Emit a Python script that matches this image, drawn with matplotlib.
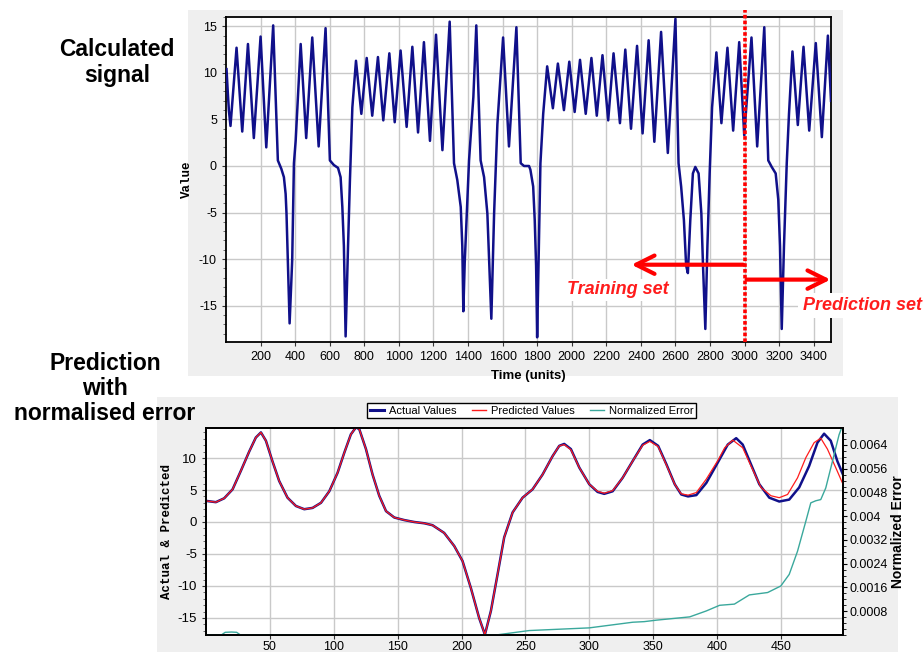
import matplotlib
matplotlib.use("Agg")
import matplotlib.pyplot as plt
from matplotlib.patches import Rectangle
from matplotlib.ticker import MultipleLocator, FuncFormatter
from matplotlib.lines import Line2D

# ---------------- data: calculated signal (top) ----------------
sig_time = [3, 11, 17, 26, 61, 94, 127, 161, 200, 233, 273, 300, 320, 335, 345, 350, 358, 368,
            383, 393, 403, 416, 432, 464, 499, 536, 576, 601, 624, 648, 663, 673, 682, 692,
            706, 717, 731, 752, 783, 814, 846, 879, 910, 945, 976, 1010, 1045, 1078, 1111,
            1145, 1180, 1215, 1252, 1294, 1319, 1338, 1358, 1367, 1373, 1381, 1406, 1431,
            1448, 1473, 1493, 1512, 1522, 1535, 1551, 1570, 1603, 1637, 1680, 1705, 1724,
            1753, 1761, 1777, 1786, 1794, 1800, 1810, 1819, 1835, 1858, 1891, 1920, 1955,
            1986, 2017, 2048, 2081, 2114, 2145, 2178, 2211, 2242, 2279, 2310, 2343, 2378,
            2410, 2445, 2478, 2517, 2556, 2600, 2618, 2633, 2649, 2662, 2672, 2686, 2701,
            2715, 2734, 2750, 2759, 2773, 2785, 2798, 2812, 2837, 2866, 2901, 2934, 2969,
            2998, 3040, 3073, 3114, 3137, 3157, 3180, 3195, 3205, 3215, 3228, 3244, 3257,
            3277, 3308, 3341, 3374, 3412, 3447, 3482, 3500]
sig_value = [10.4, 7.7, 5.9, 4.3, 12.7, 3.7, 13.1, 3.0, 13.9, 2.0, 15.1, 0.6, -0.3, -1.2, -3.0,
             -5.1, -10.4, -16.9, -10.1, 0.3, 2.7, 7.4, 13.1, 3.0, 13.8, 2.1, 14.8, 0.6, 0.1,
             -0.2, -1.2, -4.4, -8.6, -18.3, -8.6, -1.5, 6.3, 11.3, 5.6, 11.6, 5.4, 11.7, 4.9,
             12.1, 4.7, 12.4, 4.2, 12.8, 3.6, 13.3, 2.7, 14.1, 1.7, 15.5, 0.3, -1.5, -4.4,
             -8.6, -15.6, -10.4, 0.6, 7.4, 15.1, 0.6, -1.2, -5.1, -10.1, -16.4, -5.1, 4.5,
             13.8, 2.1, 14.9, 0.3, 0.0, 0.0, -0.4, -2.2, -5.8, -10.7, -18.4, -8.6, 0.3, 5.6,
             10.7, 6.2, 11.0, 6.0, 11.2, 5.8, 11.4, 5.6, 11.6, 5.4, 11.9, 4.9, 12.1, 4.6,
             12.5, 4.0, 12.9, 3.5, 13.5, 2.6, 14.4, 1.4, 15.8, 0.3, -2.2, -5.8, -10.7, -11.5,
             -5.8, -0.8, -0.1, -0.8, -5.1, -10.4, -17.5, -8.6, -0.8, 6.3, 12.2, 4.6, 12.7,
             3.8, 13.3, 3.3, 13.8, 2.1, 14.9, 0.6, -0.1, -0.8, -3.6, -8.6, -17.5, -8.6, 0.3,
             5.6, 12.3, 4.4, 12.8, 3.8, 13.2, 3.1, 14.0, 7.0]
split_time = 3000

# ---------------- data: prediction window (bottom) ----------------
act_x = [0, 7.7, 14.2, 20.8, 27.3, 33.8, 39, 43, 46.9, 52, 57.3, 63.8, 70.4, 76.9, 83.4, 90,
         96.5, 103, 108.2, 113.4, 117.4, 120, 125.2, 130.4, 135.6, 140.9, 147.4, 155.2, 163,
         170.9, 177.3, 186.4, 194.3, 200.8, 207.3, 213.8, 218.3, 223, 228.2, 233.4, 240,
         247.8, 255.6, 263.4, 271.3, 276.5, 280.4, 285.6, 292.2, 300, 306.5, 311.7, 318.3,
         326.1, 333.9, 341.8, 347.4, 353.9, 360.4, 366.9, 372, 377.3, 383.8, 391.6, 400.6,
         408.4, 415, 420.1, 426.6, 433.1, 440.9, 448.7, 456.5, 464.3, 472.1, 478.6, 483.8,
         489, 494.2, 498.6]
act_y = [3.3, 3.1, 3.7, 5.1, 8.0, 11.0, 13.2, 14.0, 12.7, 9.5, 6.4, 3.8, 2.5, 2.0, 2.2, 3.0,
         4.8, 7.7, 10.8, 13.7, 14.8, 14.5, 11.4, 7.4, 4.1, 1.7, 0.7, 0.3, 0.0, -0.2, -0.5,
         -1.7, -3.75, -6.1, -10.3, -15.0, -17.6, -13.9, -8.2, -2.4, 1.5, 3.8, 5.1, 7.4, 10.3,
         11.9, 12.2, 11.4, 8.5, 5.9, 4.7, 4.4, 4.8, 6.9, 9.5, 12.1, 12.8, 11.9, 9.0, 5.9,
         4.3, 4.0, 4.2, 6.1, 9.3, 12.1, 13.1, 12.1, 9.0, 5.9, 3.8, 3.2, 3.5, 5.4, 8.75,
         12.4, 13.8, 12.7, 9.5, 7.4]
pred_x = [0, 7.7, 14.2, 20.8, 27.3, 33.8, 39, 43, 46.9, 52, 57.3, 63.8, 70.4, 76.9, 83.4, 90,
          96.5, 103, 108.2, 113.4, 117.4, 120, 125.2, 130.4, 135.6, 140.9, 147.4, 155.2, 163,
          170.9, 177.3, 186.4, 194.3, 200.8, 207.3, 213.8, 218.3, 223, 228.2, 233.4, 240,
          247.8, 255.6, 263.4, 271.3, 276.5, 280.4, 285.6, 292.2, 300, 306.5, 311.7, 318.3,
          326.1, 333.9, 341.8, 347.4, 353.9, 360.4, 366.9, 372, 377.3, 383.8, 391.6, 400.6,
          406, 412.3, 420.1, 426.6, 434.4, 442.2, 448.7, 455.2, 463, 469.5, 476, 481.2,
          486.4, 492.9, 498.6]
pred_y = [3.3, 3.1, 3.7, 5.1, 8.0, 11.0, 13.2, 14.0, 12.7, 9.5, 6.4, 3.8, 2.5, 2.0, 2.2, 3.0,
          4.8, 7.7, 10.8, 13.7, 14.8, 14.5, 11.4, 7.4, 4.1, 1.7, 0.7, 0.3, 0.0, -0.2, -0.5,
          -1.7, -3.75, -6.1, -10.3, -15.0, -17.6, -13.9, -8.2, -2.4, 1.5, 3.8, 5.1, 7.4, 10.3,
          11.9, 12.1, 11.3, 8.5, 5.9, 4.8, 4.5, 4.9, 6.9, 9.5, 12.0, 12.6, 11.8, 8.9, 5.9,
          4.4, 4.2, 4.6, 6.7, 9.6, 11.6, 12.8, 11.6, 8.75, 5.4, 4.1, 3.8, 4.3, 6.9, 10.05,
          12.4, 13.1, 11.4, 8.5, 5.9]
err_x = [0, 12, 15, 20, 24, 27, 227, 253, 300, 334, 343, 352.6, 378.6, 391.6, 402, 413.6,
         425.3, 439.6, 449.9, 456.5, 463, 469.5, 473.4, 477.3, 481.2, 485.1, 490.3, 495.5, 498.6]
err_y = [0, 0, 0.00009, 0.0001, 0.00009, 0, 0, 0.00015, 0.00024, 0.00043, 0.00045, 0.0005,
         0.00061, 0.00081, 0.001, 0.00104, 0.00135, 0.00143, 0.00165, 0.00204, 0.00282,
         0.00383, 0.00445, 0.00452, 0.00456, 0.00495, 0.00584, 0.00674, 0.0071]

top_xticks = list(range(200, 3401, 200))
top_yticks = [-15, -10, -5, 0, 5, 10, 15]
bot_xticks = [50, 100, 150, 200, 250, 300, 350, 400, 450]
bot_yticks = [-15, -10, -5, 0, 5, 10]
err_ticks = [0.0008, 0.0016, 0.0024, 0.0032, 0.004, 0.0048, 0.0056, 0.0064]

NAVY = '#10108a'
RED = '#ff1c1c'
TEAL = '#3aa89c'
GRID = '#c9c9c9'
SANS = 'Liberation Sans'
MONO = 'Liberation Mono'

plt.rcParams['font.family'] = [SANS, 'DejaVu Sans']
plt.rcParams['axes.unicode_minus'] = False

fig = plt.figure(figsize=(9.24, 6.52), dpi=100)
fig.patch.set_facecolor('white')

# gray panels (drawn behind axes)
fig.patches.append(Rectangle((188 / 924, 1 - 376 / 652), 655 / 924, 366 / 652,
                             transform=fig.transFigure, facecolor='#efefef',
                             edgecolor='none', zorder=-10))
fig.patches.append(Rectangle((157 / 924, 0), 741 / 924, 255 / 652,
                             transform=fig.transFigure, facecolor='#efefef',
                             edgecolor='none', zorder=-10))

# ---------------- top chart ----------------
ax1 = fig.add_axes([226 / 924, 1 - 342 / 652, 605 / 924, 325 / 652])
ax1.set_zorder(1)
ax1.set_facecolor('white')
ax1.plot(sig_time, sig_value, color=NAVY, lw=1.8, zorder=3, solid_joinstyle='round')
ax1.set_xlim(0, 3500)
ax1.set_ylim(-18.9, 16)
ax1.set_xticks(top_xticks)
ax1.set_yticks(top_yticks)
ax1.yaxis.set_minor_locator(MultipleLocator(1))
ax1.grid(True, which='major', color=GRID, lw=1)
ax1.set_axisbelow(True)
for s in ax1.spines.values():
    s.set_color('black')
    s.set_linewidth(1.3)
ax1.tick_params(axis='both', which='major', labelsize=9, length=3, width=0.8, color='#333333')
ax1.tick_params(axis='y', which='minor', length=2, width=0.6, color='#555555')
ax1.set_ylabel('Value', family=MONO, fontweight='bold', fontsize=9)
ax1.yaxis.set_label_coords(-0.054, 0.5)
ax1.set_xlabel('Time (units)', fontweight='bold', fontsize=9.5)
ax1.xaxis.set_label_coords(0.5, -0.085)

# split marker and arrows
ax1.axvline(split_time, ymin=0, ymax=1.022, color='red', lw=2.6,
            linestyle=(0, (1.0, 0.6)), clip_on=False, zorder=5)
ax1.annotate('', xy=(2346, -10.6), xytext=(split_time - 8, -10.6),
             arrowprops=dict(arrowstyle='->,head_length=1.1,head_width=0.55',
                             color='red', lw=3, mutation_scale=12, shrinkA=0, shrinkB=0),
             zorder=6)
ax1.annotate('', xy=(3497, -12.2), xytext=(split_time + 12, -12.2),
             arrowprops=dict(arrowstyle='->,head_length=1.1,head_width=0.55',
                             color='red', lw=3, mutation_scale=12, shrinkA=0, shrinkB=0),
             annotation_clip=False, zorder=6)
ax1.text(2265, -13.3, 'Training set', color=RED, fontsize=13, fontweight='bold',
         style='italic', ha='center', va='center', zorder=6,
         bbox=dict(facecolor='white', edgecolor='none', pad=2))
ax1.text(3680, -15.0, 'Prediction set', color=RED, fontsize=13, fontweight='bold',
         style='italic', ha='center', va='center', zorder=6, clip_on=False,
         bbox=dict(facecolor='white', edgecolor='none', pad=3))

# ---------------- bottom chart ----------------
ax2 = fig.add_axes([206 / 924, 1 - 635 / 652, 637 / 924, 207 / 652])
ax2.set_zorder(1)
ax2.set_facecolor('white')
l_act, = ax2.plot(act_x, act_y, color=NAVY, lw=1.8, zorder=3, solid_joinstyle='round')
l_pred, = ax2.plot(pred_x, pred_y, color=RED, lw=0.9, zorder=4)
ax2.set_xlim(0, 498.6)
ax2.set_ylim(-17.66, 14.69)
ax2.set_xticks(bot_xticks)
ax2.set_yticks(bot_yticks)
ax2.yaxis.set_minor_locator(MultipleLocator(1))
ax2.grid(True, which='major', color=GRID, lw=1)
ax2.set_axisbelow(True)
for s in ax2.spines.values():
    s.set_color('black')
    s.set_linewidth(1.3)
ax2.tick_params(axis='both', which='major', labelsize=9.5, length=3, width=0.8, color='#333333')
ax2.tick_params(axis='x', which='major', labelsize=9, pad=1)
ax2.tick_params(axis='y', which='minor', length=2, width=0.6, color='#555555')
ax2.set_ylabel('Actual & Predicted', family=MONO, fontweight='bold', fontsize=9)
ax2.yaxis.set_label_coords(-0.052, 0.5)

ax3 = ax2.twinx()
ax3.set_zorder(2)
ax3.patch.set_visible(False)
l_err, = ax3.plot(err_x, err_y, color=TEAL, lw=1.0, zorder=2)
ax3.set_ylim(0, 0.00697)
ax3.set_yticks(err_ticks)
ax3.yaxis.set_major_formatter(FuncFormatter(lambda v, p: ('%.4f' % v).rstrip('0')))
ax3.yaxis.set_minor_locator(MultipleLocator(0.0002))
ax3.tick_params(axis='y', which='major', labelsize=9, length=3, width=0.8, pad=2)
ax3.tick_params(axis='y', which='minor', length=2, width=0.6)
for s in ax3.spines.values():
    s.set_color('black')
    s.set_linewidth(1.3)
ax3.set_ylabel('Normalized Error', fontweight='bold', fontsize=10)
ax3.yaxis.set_label_coords(1.075, 0.5)

leg = fig.legend([Line2D([], [], color=NAVY, lw=2.2), Line2D([], [], color=RED, lw=1),
                  Line2D([], [], color=TEAL, lw=1)],
                 ['Actual Values', 'Predicted Values', 'Normalized Error'],
                 loc='center', bbox_to_anchor=(531.5 / 924, 1 - 410.5 / 652), ncol=3,
                 fontsize=8, frameon=True, fancybox=False, edgecolor='black',
                 handlelength=1.3, handletextpad=0.4, columnspacing=1.4,
                 borderpad=0.25, framealpha=1)
leg.get_frame().set_linewidth(1.0)
leg.set_zorder(5)

# left side titles
fig.text(117 / 924, 0.942, 'Calculated\nsignal', ha='center', va='top', fontsize=16.5,
         fontweight='bold', linespacing=1.15)
fig.text(105 / 924, 1 - 352 / 652, 'Prediction\nwith\nnormalised error', ha='center',
         va='top', fontsize=16.5, fontweight='bold', linespacing=1.1)

fig.savefig('out.png', dpi=100)
